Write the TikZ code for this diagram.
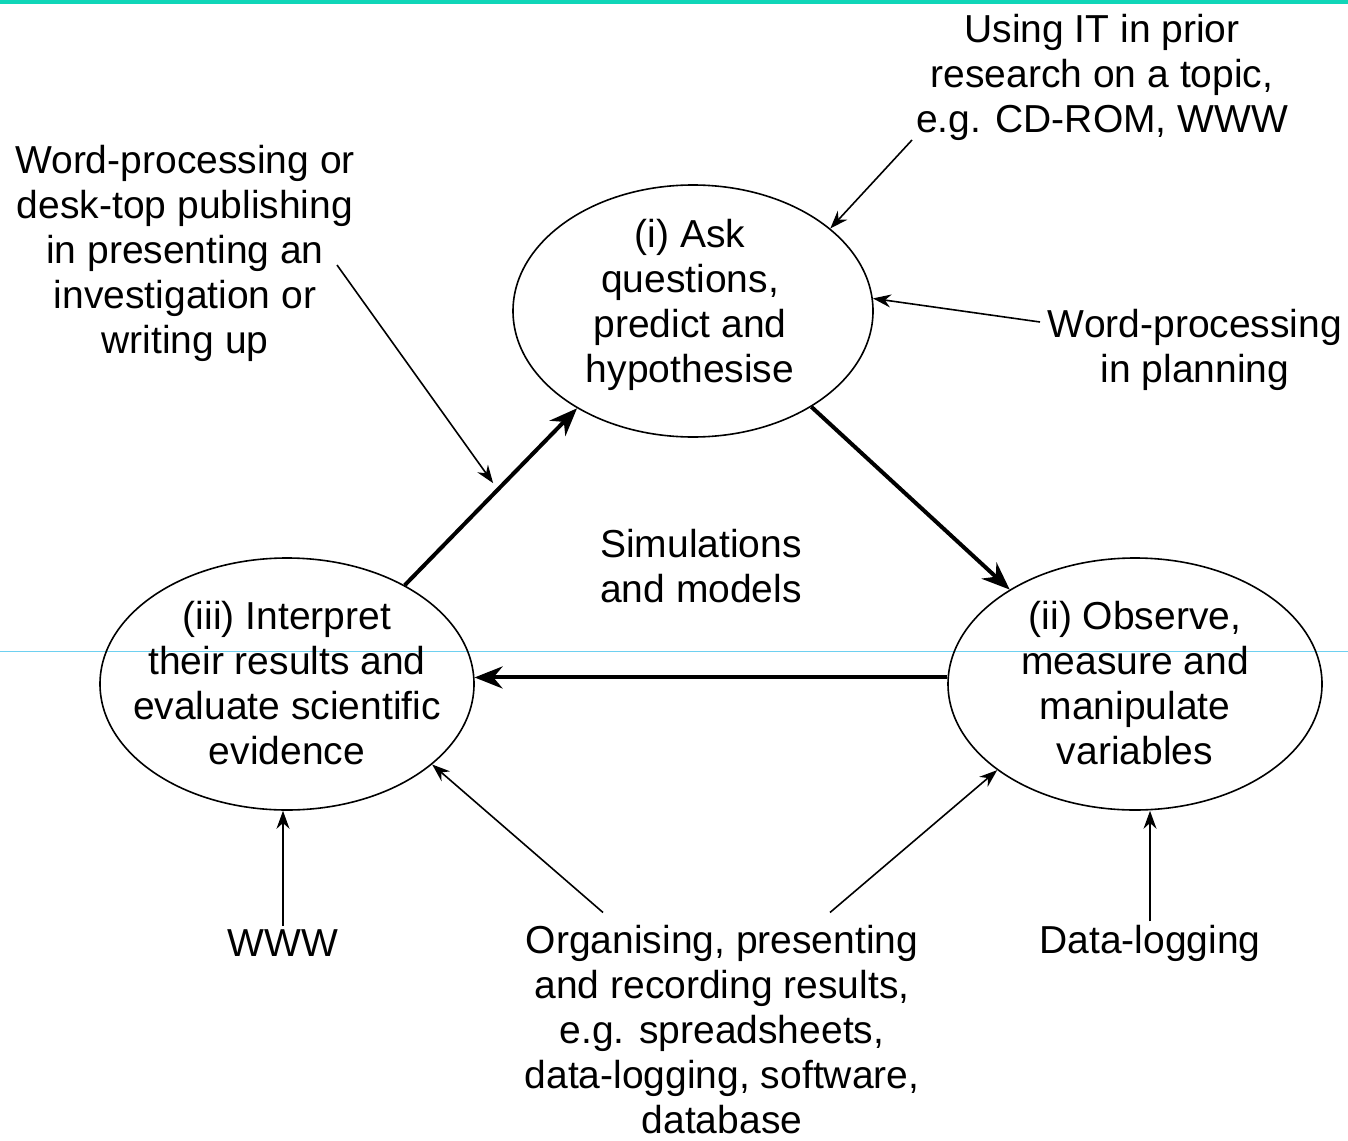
\documentclass[tikz,border=0pt]{standalone}
\usepackage{fontspec}
\setmainfont{Liberation Sans}
\usetikzlibrary{arrows.meta,shapes.geometric}
\definecolor{barteal}{RGB}{16,214,184}
\definecolor{scanline}{RGB}{110,208,240}

\begin{document}
\begin{tikzpicture}[x=1pt,y=-1pt,
 every node/.style={font=\fontsize{39}{45}\selectfont,align=center},
 stage/.style={draw,ellipse,line width=1.6pt,minimum width=374pt,minimum height=252pt,inner sep=0pt},
 flow/.style={-{Stealth[length=28pt,width=22pt]},line width=4pt},
 tool/.style={-{Stealth[length=18pt,width=13pt]},line width=1.6pt}]
\useasboundingbox (0,0) rectangle (1348,1140);
\fill[barteal] (0,0) rectangle (1348,4);
\draw[scanline,line width=1pt] (0,651)--(1348,651);
\node[stage,minimum width=360pt] (ask) at (693,311) {};
\node[align=center] at (690,305) {(i) Ask\\questions,\\predict and\\hypothesise};
\node[stage] (obs) at (1135,684) {};
\node at (1135,683) {(ii) Observe,\\measure and\\manipulate\\variables};
\node[stage] (interp) at (287,684) {};
\node at (287,683) {(iii) Interpret\\their results and\\evaluate scientific\\evidence};
\node (itprior) at (1102,77) {Using IT in prior\\research on a topic,\\e.g. CD-ROM, WWW};
\node (wpwrite) at (185,253) {Word-processing or\\desk-top publishing\\in presenting an\\investigation or\\writing up};
\node (wpplan) at (1195,350) {Word-processing\\in planning};
\node (sim) at (701,566) {Simulations\\and models};
\node (www) at (283,943) {WWW};
\node (dlog) at (1150,943) {Data-logging};
\node[inner sep=1pt] (org) at (722,1030) {Organising, presenting\\and recording results,\\e.g. spreadsheets,\\data-logging, software,\\database};
\coordinate (itfoot) at (912,140);
\coordinate (planfoot) at (1040,322);
\coordinate (writefoot) at (337,265);
\draw[flow] (interp.40)--coordinate[pos=.54](hit)(ask.-140);
\draw[flow] (ask.-39)--(obs.143);
\draw[flow] (obs.178)--(interp.2);
\draw[tool] (itfoot)--(ask.31);
\draw[tool] (planfoot)--(ask.4);
\draw[tool,shorten >=8pt] (writefoot)--(hit);
\draw[tool] (www.north)--(www.north|-interp.south);
\draw[tool] (dlog.north)--(dlog.north|-obs.south);
\draw[tool] ([xshift=-119pt,yshift=12pt]org.north)--(interp.-29.5);
\draw[tool] ([xshift=108pt,yshift=12pt]org.north)--(obs.212.5);
\end{tikzpicture}
\end{document}
